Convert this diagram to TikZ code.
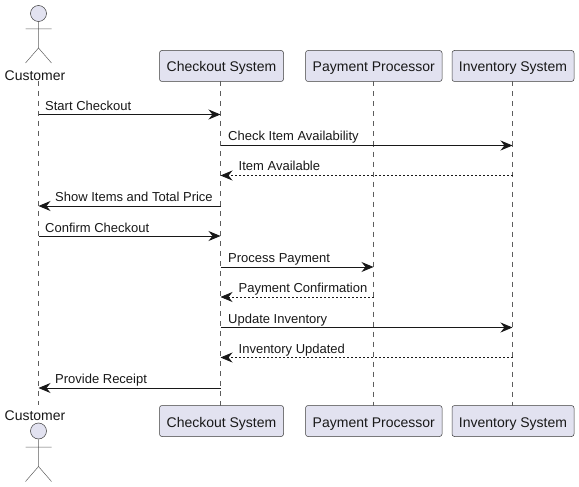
\documentclass[tikz,border=0pt]{standalone}
\usepackage{fontspec}
\setmainfont{Liberation Sans}
\usetikzlibrary{arrows.meta}
\definecolor{pfill}{HTML}{E2E2F0}
\definecolor{pline}{HTML}{181818}
\tikzset{
  x=1pt,y=-1pt,
  partbox/.style={draw=pline!85,line width=0.5pt,fill=pfill,rounded corners=2.5pt,minimum height=31pt,inner sep=0pt,text height=15pt,text depth=3pt,font=\fontsize{14}{16}\selectfont,text=pline},
  actorname/.style={inner sep=0pt,font=\fontsize{14}{16}\selectfont,text=pline,anchor=base},
  lifeline/.style={draw=pline!70,line width=0.45pt,dash pattern=on 5pt off 5pt},
  stick/.style={draw=pline!70,line width=0.5pt},
  head/.style={draw=pline!85,line width=0.5pt,fill=pfill,circle,minimum size=16pt,inner sep=0pt},
  msg/.style={draw=pline,line width=0.9pt,-{Stealth[length=12pt,width=10pt,inset=4pt]}},
  reply/.style={draw=pline,line width=0.7pt,dash pattern=on 2pt off 2pt,-{Stealth[length=12pt,width=10pt,inset=4pt]}},
  msglabel/.style={inner sep=0pt,anchor=base west,font=\fontsize{13}{15}\selectfont,text=pline},
}
\begin{document}
\begin{tikzpicture}
\useasboundingbox (0,0) rectangle (579,487);
% boxes
\node[partbox,minimum width=124pt] (ct) at (221.5,66) {Checkout System};
\node[partbox,minimum width=136.5pt] (pt) at (373.8,66) {Payment Processor};
\node[partbox,minimum width=122pt] (it) at (513,66) {Inventory System};
\node[partbox,minimum width=124pt] (cb) at (221.5,421) {Checkout System};
\node[partbox,minimum width=136.5pt] (pb) at (373.8,421) {Payment Processor};
\node[partbox,minimum width=122pt] (ib) at (513,421) {Inventory System};
\node[actorname] (ua) at (35,80.5) {Customer};
\node[actorname] (ub) at (35,420) {Customer};
\coordinate (lt) at (38.5,81);
\coordinate (lb) at (38.5,405);
\coordinate (lc) at (220.5,81);
\coordinate (lcb) at (220.5,405.5);
\coordinate (lp) at (373.5,81.5);
\coordinate (lpb) at (373.5,405.5);
\coordinate (li) at (512.5,81.5);
\coordinate (lib) at (512.5,405.5);
% lifelines
\draw[lifeline] (lt) -- (lb);
\draw[lifeline] (lc) -- (lcb);
\draw[lifeline] (lp) -- (lpb);
\draw[lifeline] (li) -- (lib);
% actors
\node[head] (h1) at (38.5,13.5) {};
\coordinate (b1) at (38.5,48);
\coordinate (al1) at (25.5,29);
\coordinate (ar1) at (51.5,29);
\coordinate (fl1) at (25.5,63);
\coordinate (fr1) at (51.5,63);
\draw[stick] (h1.south) -- (b1) (al1) -- (ar1) (fl1) -- (b1) -- (fr1);
\node[head] (h2) at (38.5,431) {};
\coordinate (b2) at (38.5,466.5);
\coordinate (al2) at (25.5,447);
\coordinate (ar2) at (51.5,447);
\coordinate (fl2) at (25.5,481.5);
\coordinate (fr2) at (51.5,481.5);
\draw[stick] (h2.south) -- (b2) (al2) -- (ar2) (fl2) -- (b2) -- (fr2);
% message levels
\coordinate (m1) at (0,114.5);
\coordinate (m2) at (0,145.5);
\coordinate (m3) at (0,175.5);
\coordinate (m4) at (0,206);
\coordinate (m5) at (0,236);
\coordinate (m6) at (0,267);
\coordinate (m7) at (0,297);
\coordinate (m8) at (0,327.5);
\coordinate (m9) at (0,357.5);
\coordinate (m10) at (0,388);
% messages
\draw[msg] (lt |- m1) -- (lc |- m1);
\draw[msg] (lc |- m2) -- (li |- m2);
\draw[reply] (li |- m3) -- (lc |- m3);
\draw[msg] (lc |- m4) -- (lt |- m4);
\draw[msg] (lt |- m5) -- (lc |- m5);
\draw[msg] (lc |- m6) -- (lp |- m6);
\draw[reply] (lp |- m7) -- (lc |- m7);
\draw[msg] (lc |- m8) -- (li |- m8);
\draw[reply] (li |- m9) -- (lc |- m9);
\draw[msg] (lc |- m10) -- (lt |- m10);
% labels
\node[msglabel] (t1) at (45,110.5) {Start Checkout};
\node[msglabel] (t2) at (228,140) {Check Item Availability};
\node[msglabel] (t3) at (238.5,171) {Item Available};
\node[msglabel] (t4) at (55,201) {Show Items and Total Price};
\node[msglabel] (t5) at (45,232) {Confirm Checkout};
\node[msglabel] (t6) at (228,262) {Process Payment};
\node[msglabel] (t7) at (238.5,292) {Payment Confirmation};
\node[msglabel] (t8) at (228,323) {Update Inventory};
\node[msglabel] (t9) at (238.5,353) {Inventory Updated};
\node[msglabel] (t10) at (55,383) {Provide Receipt};
\end{tikzpicture}
\end{document}
